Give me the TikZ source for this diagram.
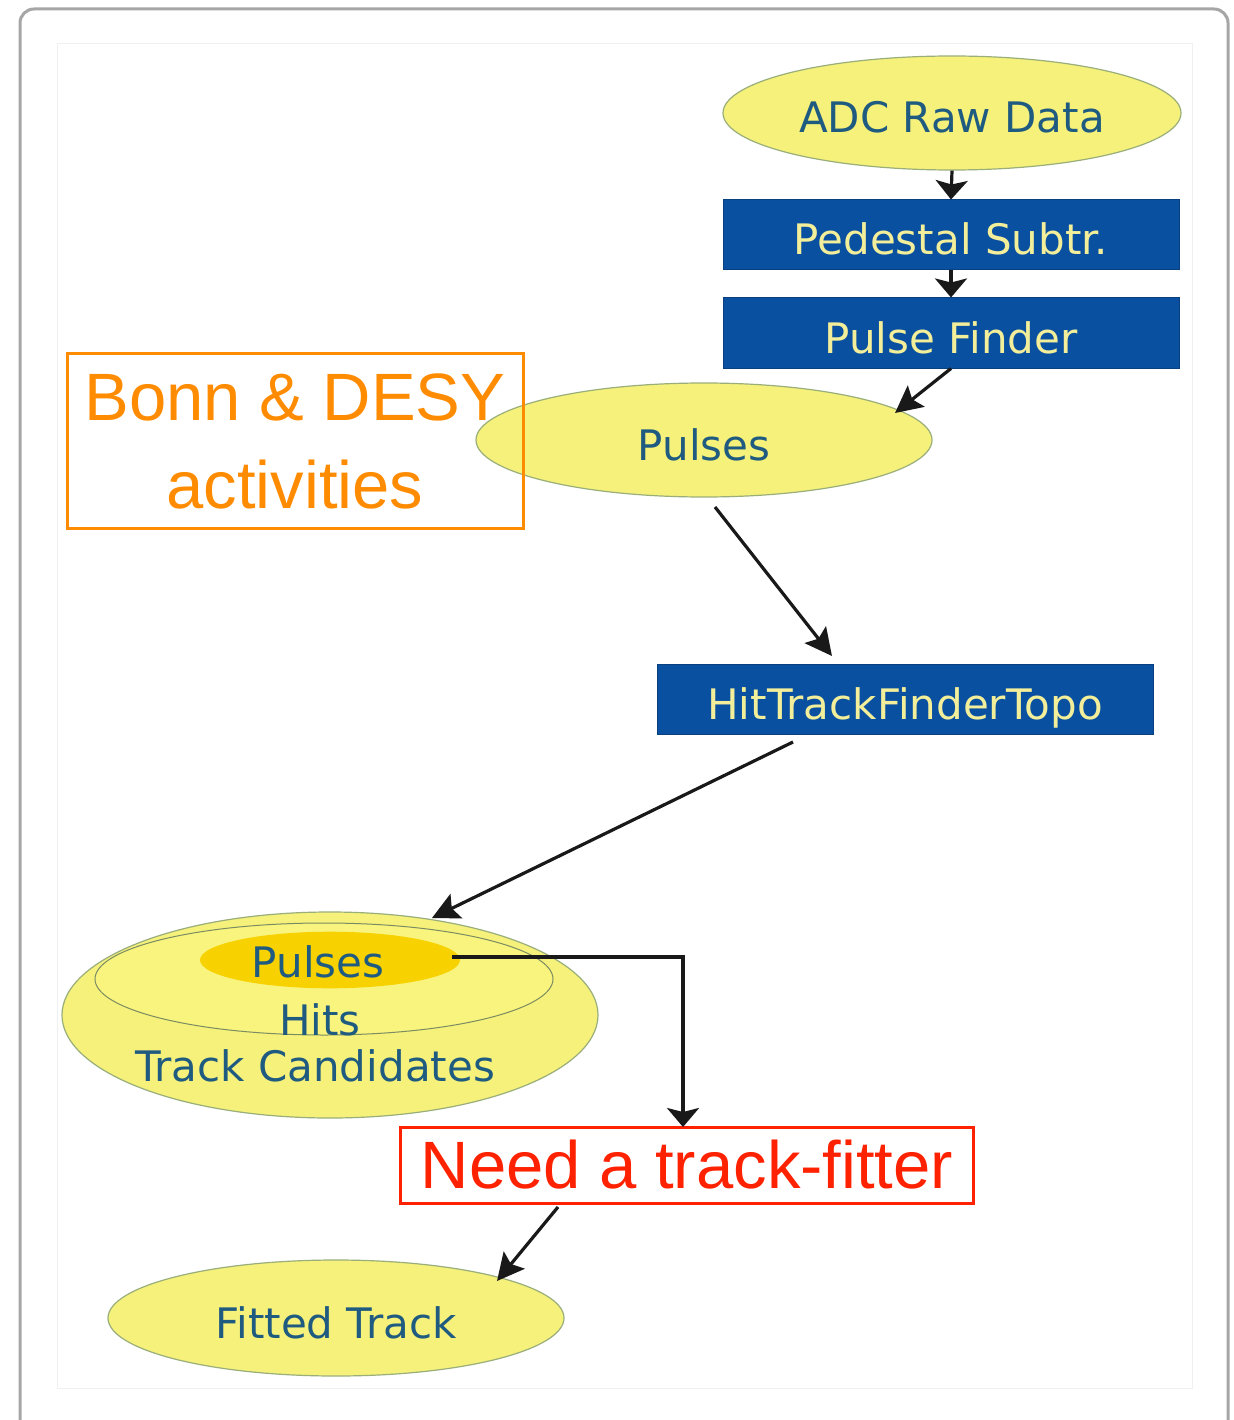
\documentclass[tikz,border=0pt]{standalone}
\usepackage{fontspec}
\setmainfont{DejaVu Sans}
\newfontfamily\helv{Liberation Sans}
\usetikzlibrary{shapes.geometric,arrows.meta}
\definecolor{ellfill}{HTML}{F5F17A}
\definecolor{ellinner}{HTML}{F8F47E}
\definecolor{ellline}{HTML}{9AAE7A}
\definecolor{goldfill}{HTML}{F7D200}
\definecolor{boxblue}{HTML}{0A50A0}
\definecolor{boxtext}{HTML}{F2EE9A}
\definecolor{txtblue}{HTML}{1F5A80}
\definecolor{orng}{HTML}{FF8C00}
\definecolor{redc}{HTML}{FF2200}
\begin{document}
\begin{tikzpicture}[x=1pt,y=-1pt,
  dfont/.style={font=\fontsize{42}{44}\selectfont,text height=40pt,text depth=0pt},
  ell/.style={ellipse,draw=ellline,line width=1.2pt,fill=ellfill,inner sep=0pt,text=txtblue,dfont},
  bluebox/.style={rectangle,draw=boxblue!80!black,line width=1pt,fill=boxblue,inner sep=0pt,text=boxtext,dfont},
  conn/.style={line width=3.2pt,black!90,-{Stealth[length=27pt,width=27pt,inset=5pt]}},
  wideconn/.style={line width=3.2pt,black!90,-{Stealth[length=19pt,width=32pt,inset=4pt]}},
  ]
\useasboundingbox (0,0) rectangle (1233,1420);
% frame
\fill[white] (0,0) rectangle (1233,1420);
\draw[black!35,line width=3pt,rounded corners=14pt] (20,9) rectangle (1228,1440);
\draw[black!6,line width=1pt] (57,44) rectangle (1192,1388);
% nodes
\node[ell,minimum width=458pt,minimum height=114pt] (adc) at (952,113) {ADC Raw Data};
\node[bluebox,minimum width=456pt,minimum height=70pt] (ped) at (951,235) {Pedestal Subtr.};
\node[bluebox,minimum width=456pt,minimum height=70pt] (pf) at (951,333) {Pulse Finder};
\node[ell,minimum width=456pt,minimum height=114pt] (pul) at (704,440) {Pulses};
\node[rectangle,draw=orng,line width=3pt,minimum width=456pt,minimum height=175pt,align=center,text=orng,font=\helv\fontsize{67}{88}\selectfont] (bonn) at (295,441) {Bonn \& DESY\\activities};
\node[bluebox,minimum width=496pt,minimum height=70pt] (htf) at (905,699) {HitTrackFinderTopo};
% nested ellipse
\node[ell,minimum width=536pt,minimum height=206pt] (tc) at (330,1015) {};
\node[ell,fill=ellinner,draw=ellline!80!black,line width=1pt,minimum width=458pt,minimum height=112pt] (hits) at (324,979) {};
\node[ell,draw=none,fill=goldfill,minimum width=260pt,minimum height=53pt] (pin) at (330,960) {};
\node[text=txtblue,dfont] (pint) at (318,957) {Pulses};
\node[text=txtblue,dfont] (hitst) at (320,1015) {Hits};
\node[text=txtblue,dfont] (tct) at (315,1061) {Track Candidates};
\node[rectangle,draw=redc,line width=3pt,minimum width=573pt,minimum height=76pt,text=redc,font=\helv\fontsize{67}{70}\selectfont] (need) at (687,1165) {Need a track-fitter};
\node[ell,minimum width=456pt,minimum height=116pt] (fit) at (336,1318) {Fitted Track};
% connectors
\draw[wideconn] (adc.south) -- (ped.north);
\draw[wideconn] (ped.south) -- (pf.north);
\draw[conn] (pf.south) -- (895,413);
\coordinate (p1) at (715,507);
\draw[conn] (p1) -- (832,656);
\coordinate (h1) at (793,742);
\draw[conn] (h1) -- (432,918);
\coordinate (pe) at (452,957);
\draw[wideconn] (pe) -- (683,957) -- (683,1127);
\coordinate (n1) at (558,1207);
\draw[conn] (n1) -- (497,1281);
\end{tikzpicture}
\end{document}
